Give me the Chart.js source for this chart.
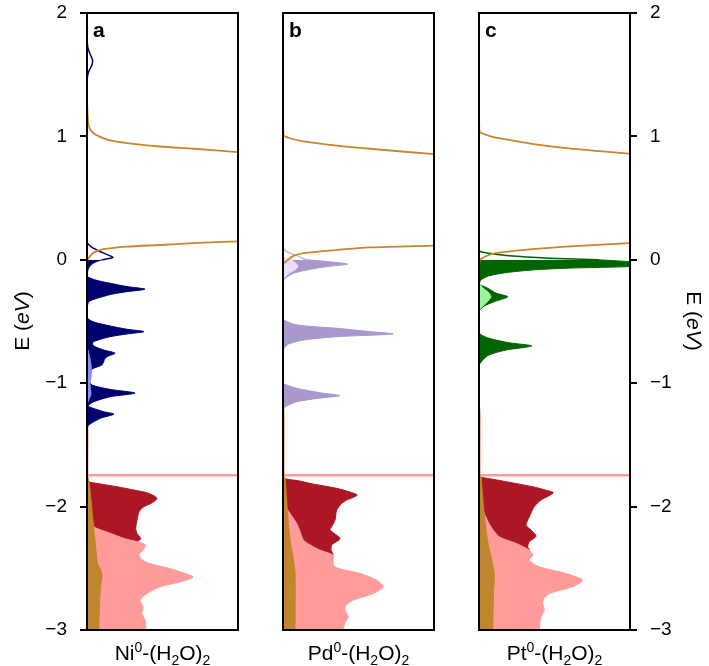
<!DOCTYPE html>
<html>
<head>
<meta charset="utf-8">
<script src="https://cdn.jsdelivr.net/npm/chart.js@4.4.1/dist/chart.umd.min.js"></script>
<style>
    html, body { margin: 0; padding: 0; background: #fff; }
    #wrap { position: relative; width: 709px; height: 666px; }
    #wrap canvas { position: absolute; left: 0; top: 0; }
</style>
</head>
<body>
<div id="wrap">
    <canvas id="panelA" width="709" height="666"></canvas>
    <canvas id="panelB" width="709" height="666"></canvas>
    <canvas id="panelC" width="709" height="666"></canvas>
</div>
<script>
// energy axis (eV) and labels
const energyTicks = [2, 1, 0, -1, -2, -3];
const panelLetters = ['a', 'b', 'c'];
const metals = ['Ni', 'Pd', 'Pt'];

// sharp water level, same in all three panels
const spikeE = [-1.745, -1.745];
const spikeDos = [0, 170];

// ---- panel a : Ni ----
const niMetalUpE = [1.80, 1.74, 1.70, 1.66, 1.62, 1.58, 1.54, 1.50, 1.44, 0.50, 0.15, 0.135, 0.10, 0.067, 0.04, 0.02, 0.01, 0.0];
const niMetalUpDos = [0, 0.5, 1.5, 3.5, 5.5, 5, 2.5, 0.8, 0, 0, 0, 0.5, 5, 13, 21, 26, 22, 15];
const niMetalE = [0, -0.02, -0.05, -0.08, -0.11, -0.136, -0.163, -0.19, -0.217, -0.238, -0.258, -0.278, -0.298, -0.32, -0.339, -0.37, -0.41, -0.445, -0.474, -0.505, -0.536, -0.563, -0.582, -0.601, -0.62, -0.636, -0.663, -0.68, -0.698, -0.731, -0.757, -0.785, -0.805, -0.826, -0.852, -0.879, -0.907, -0.94, -0.974, -1.015, -1.05, -1.08, -1.11, -1.15, -1.177, -1.19, -1.231, -1.25, -1.285, -1.339, -1.37];
const niMetalDos = [15, 8, 3, 1, 0.5, 0.5, 8, 23, 40, 58, 40, 25, 16, 7, 2, 0.5, 0.3, 0.5, 0.5, 7, 23, 40, 57, 40, 25, 16.7, 6.7, 5.5, 6.7, 16.7, 28, 20, 17.5, 16.7, 15, 6.7, 1.7, 1, 1.7, 5, 23, 48, 23, 6.7, 1.7, 1.7, 16.7, 27, 13.3, 1.7, 0];
const niMinorE = [-0.70, -0.75, -0.80, -0.85, -0.90, -0.95, -1.0, -1.05, -1.09, -1.13, -1.17];
const niMinorDos = [0, 1.5, 3, 4, 4.5, 4, 3, 3.5, 4, 2, 0];
const niWaterHiE = [1.30, 1.23, 1.15, 1.094, 1.06, 1.027, 1.0, 0.967, 0.946, 0.918, 0.90, 0.873];
const niWaterHiDos = [0, 0.3, 0.8, 1.5, 3, 6.3, 12, 23, 40, 73, 107, 151];
const niWaterLoE = [0.15, 0.135, 0.12, 0.107, 0.086, 0.06, 0.03, 0.0, -0.05];
const niWaterLoDos = [151, 106, 73, 40, 16.3, 7, 3, 0.5, 0];
const niOchreE = [-1.76, -1.80, -1.97, -2.20, -2.40, -2.46, -2.52, -2.57, -2.62, -2.75, -3.0];
const niOchreDos = [0.5, 2, 4.3, 7, 9.5, 10.5, 14, 15, 14, 12.7, 11.7];
const niPinkE = [-1.30, -1.35, -1.742, -1.748, -1.80, -1.90, -2.0, -2.1, -2.164, -2.217, -2.258, -2.285, -2.31, -2.35, -2.393, -2.43, -2.46, -2.50, -2.542, -2.57, -2.61, -2.65, -2.704, -2.758, -2.81, -2.866, -2.92, -3.0];
const niPinkDos = [0, 1, 1, 1.2, 1.5, 2, 2.5, 4, 7, 23.7, 37, 50.3, 58.7, 56, 52, 55, 62, 82, 98, 106, 93, 73, 60, 53, 56, 54.7, 58, 59];
const niRedE = [-1.77, -1.799, -1.812, -1.839, -1.866, -1.893, -1.934, -1.974, -2.0, -2.042, -2.109, -2.177, -2.217, -2.258, -2.285, -2.33, -2.40, -2.50, -2.70, -3.0];
const niRedDos = [0.5, 2, 10, 30, 47, 62, 70, 64, 57, 52, 50, 48.7, 50, 53.7, 50.3, 35, 20, 10, 5, 3];

// ---- panel b : Pd ----
const pdMetalUpE = [0.12, 0.095, 0.07, 0.05, 0.03, 0.01, 0.0];
const pdMetalUpDos = [0, 0.5, 3, 8, 15, 20, 24];
const pdMetalE = [0.0, -0.014, -0.035, -0.055, -0.082, -0.109, -0.15, -0.177, -0.22, -0.3, -0.4, -0.46, -0.487, -0.528, -0.555, -0.582, -0.601, -0.623, -0.65, -0.682, -0.718, -0.76, -0.85, -0.95, -1.0, -1.041, -1.077, -1.101, -1.123, -1.15, -1.177, -1.2, -1.25];
const pdMetalDos = [24, 44, 64.6, 44, 24, 10.7, 2.3, 0.7, 0.3, 0.2, 0.3, 0.5, 0.8, 14, 54, 87, 110, 54, 20.7, 5.7, 1, 0.5, 0.3, 0.4, 0.5, 14, 37, 56.7, 34, 14, 5.7, 1, 0];
const pdMinorE = [0.02, 0.0, -0.03, -0.055, -0.08, -0.11, -0.14, -0.17];
const pdMinorDos = [0, 8, 13, 15, 12, 6, 2, 0];
const pdWaterHiE = [1.14, 1.01, 0.985, 0.96, 0.926, 0.90, 0.856];
const pdWaterHiDos = [0, 0.5, 7, 20, 54, 87, 151];
const pdWaterLoE = [0.115, 0.10, 0.08, 0.054, 0.03, 0.0, -0.03];
const pdWaterLoDos = [151, 87, 54, 20.3, 10, 5, 0.5];
const pdOchreE = [-1.20, -1.76, -1.771, -2.0, -2.27, -2.393, -2.542, -3.0];
const pdOchreDos = [0.8, 0.8, 2, 4, 7, 9.7, 12, 12];
const pdPinkE = [-1.20, -1.25, -1.742, -1.748, -1.80, -1.90, -2.0, -2.136, -2.2, -2.27, -2.31, -2.353, -2.393, -2.43, -2.474, -2.50, -2.542, -2.596, -2.65, -2.704, -2.758, -2.80, -2.839, -2.893, -2.94, -3.0];
const pdPinkDos = [0, 1, 1, 1.2, 1.5, 2, 3, 13.7, 17, 20.3, 27, 37, 50.3, 50.3, 50.3, 55, 77, 93.7, 100.3, 90.3, 70.3, 63, 62, 65.3, 62, 59.7];
const pdRedE = [-1.76, -1.775, -1.79, -1.812, -1.852, -1.88, -1.907, -1.947, -1.974, -2.028, -2.109, -2.164, -2.19, -2.258, -2.312, -2.35, -2.393, -2.43, -2.5, -2.7, -3.0];
const pdRedDos = [0.5, 2, 15, 27, 53.7, 66, 74.3, 63.7, 58.7, 53.7, 52, 48.7, 47, 57, 48.7, 48, 50, 35, 15, 5, 3];

// ---- panel c : Pt ----
const ptMetalUpE = [0.09, 0.067, 0.054, 0.032, 0.013, 0.0];
const ptMetalUpDos = [0, 1, 10, 30, 70, 120];
const ptMetalE = [0.0, -0.015, -0.035, -0.055, -0.068, -0.082, -0.104, -0.13, -0.163, -0.19, -0.2, -0.23, -0.27, -0.30, -0.339, -0.374, -0.412, -0.5, -0.595, -0.636, -0.672, -0.698, -0.731, -0.771, -0.812, -0.85, -0.9];
const ptMetalDos = [120, 150, 175, 150, 87, 53.7, 27, 10, 2, 0.5, 0.5, 8.7, 17, 28.7, 15.3, 5.3, 0.5, 0.3, 0.5, 10, 30, 52.7, 27, 10, 3.7, 0.5, 0];
const ptMinorE = [-0.19, -0.23, -0.258, -0.30, -0.352, -0.38, -0.41];
const ptMinorDos = [0, 4, 8.7, 12, 7, 3, 0];
const ptWaterHiE = [1.19, 1.04, 1.005, 0.986, 0.94, 0.905, 0.86];
const ptWaterHiDos = [0, 0.5, 10, 20, 53, 87, 150];
const ptWaterLoE = [0.135, 0.107, 0.086, 0.054, 0.04, 0.02, 0.0, -0.03];
const ptWaterLoDos = [150, 86.7, 53.3, 16.7, 10, 5, 1, 0.3];
const ptOchreE = [-1.20, -1.75, -1.758, -2.0, -2.285, -2.542, -2.7, -3.0];
const ptOchreDos = [0.8, 0.8, 2, 4.5, 8.7, 15.3, 14.5, 13.7];
const ptPinkE = [-1.20, -1.25, -1.742, -1.748, -1.80, -1.95, -2.05, -2.164, -2.245, -2.298, -2.353, -2.393, -2.434, -2.488, -2.542, -2.596, -2.65, -2.704, -2.745, -2.785, -2.839, -2.893, -2.94, -3.0];
const ptPinkDos = [0, 1, 1, 1.2, 1.5, 2.5, 5, 12, 20.3, 37, 50.3, 53.7, 50.3, 60.3, 87, 103.7, 93.7, 70.3, 65, 63.7, 65.3, 62, 61, 60.3];
const ptRedE = [-1.755, -1.765, -1.78, -1.798, -1.839, -1.865, -1.888, -1.947, -2.0, -2.083, -2.15, -2.19, -2.24, -2.285, -2.326, -2.353, -2.40, -2.5, -2.7, -3.0];
const ptRedDos = [0.5, 3.7, 15, 27, 53.7, 66, 74.3, 62, 55.3, 50.3, 47, 52, 57, 50.3, 48.7, 50.3, 35, 15, 5, 3];

const FONT = "'Liberation Sans', Arial, Helvetica, sans-serif";
const BLACK = '#000';

function pts(es, ds) {
    return es.map((e, i) => ({x: ds[i], y: e}));
}

function curve(es, ds, color, width) {
    return {data: pts(es, ds), borderColor: color, borderWidth: width, fill: false};
}

function area(es, ds, color, edge) {
    return {data: pts(es, ds), borderColor: edge || color, borderWidth: 1, backgroundColor: color, fill: 'origin'};
}

function spike(color) {
    return {data: pts(spikeE, spikeDos), borderColor: color, borderWidth: 2.5, fill: false, tension: 0};
}

function drawRich(ctx, parts, x, y) {
    let w = 0;
    parts.forEach(p => { ctx.font = p.font; w += ctx.measureText(p.t).width; });
    let cx = x - w / 2;
    parts.forEach(p => {
        ctx.font = p.font;
        ctx.fillText(p.t, cx, y + (p.dy || 0));
        cx += ctx.measureText(p.t).width;
    });
}

function decorations(index, titleSide) {
    return {
        id: 'deco' + index,
        afterDraw(chart) {
            const ctx = chart.ctx;
            const a = chart.chartArea;
            ctx.save();
            ctx.strokeStyle = BLACK;
            ctx.lineWidth = 2;
            ctx.strokeRect(a.left, a.top, a.right - a.left, a.bottom - a.top);

            ctx.fillStyle = BLACK;
            ctx.textBaseline = 'alphabetic';
            ctx.font = 'bold 21px ' + FONT;
            ctx.fillText(panelLetters[index], a.left + 6, 37);

            const big = '21px ' + FONT, small = '14px ' + FONT;
            drawRich(ctx, [
                {t: metals[index], font: big},
                {t: '0', font: small, dy: -8},
                {t: '-(H', font: big},
                {t: '2', font: small, dy: 5},
                {t: 'O)', font: big},
                {t: '2', font: small, dy: 5}
            ], (a.left + a.right) / 2, 660);

            if (titleSide) {
                const left = titleSide === 'left';
                ctx.translate(left ? 23 : 693, 321);
                ctx.rotate(left ? -Math.PI / 2 : Math.PI / 2);
                ctx.textBaseline = 'middle';
                drawRich(ctx, [
                    {t: 'E (', font: '21px ' + FONT},
                    {t: 'eV', font: 'italic 21px ' + FONT},
                    {t: ')', font: '21px ' + FONT}
                ], 0, 0);
            }
            ctx.restore();
        }
    };
}

function makePanel(id, index, datasets, pad, axisSide, axisWidth) {
    new Chart(document.getElementById(id), {
        type: 'line',
        data: {datasets: datasets},
        options: {
            indexAxis: 'y',
            responsive: false,
            animation: false,
            events: [],
            layout: {padding: pad},
            elements: {point: {radius: 0}, line: {tension: 0.25}},
            plugins: {legend: {display: false}, tooltip: {enabled: false}},
            scales: {
                x: {type: 'linear', min: 0, max: 151, display: false},
                y: {
                    type: 'linear',
                    min: energyTicks[energyTicks.length - 1],
                    max: energyTicks[0],
                    display: !!axisSide,
                    position: axisSide || 'left',
                    afterFit: s => {
                        s.width = axisWidth;
                        s.paddingTop = 0;
                        s.paddingBottom = 0;
                    },
                    ticks: {
                        stepSize: 1,
                        color: BLACK,
                        padding: 13,
                        font: {family: FONT, size: 19},
                        callback: v => (v < 0 ? '\u2212' + Math.abs(v) : String(v))
                    },
                    grid: {drawOnChartArea: false, drawTicks: true, tickLength: 7, color: BLACK, lineWidth: 2},
                    border: {display: false}
                }
            }
        },
        plugins: [decorations(index, axisSide)]
    });
}

// dataset order: first one is drawn on top
const navy = '#00006e', orange = '#c8872d', ochre = '#c0862f', pink = '#ff9b9b', darkRed = '#ad1626';

makePanel('panelA', 0, [
    area(niMinorE, niMinorDos, '#8c8cf5'),
    curve(niWaterHiE, niWaterHiDos, orange, 1.8),
    curve(niWaterLoE, niWaterLoDos, orange, 1.8),
    curve(niMetalUpE, niMetalUpDos, navy, 1.5),
    area(niMetalE, niMetalDos, navy),
    area(niOchreE, niOchreDos, ochre),
    spike(pink),
    area(niPinkE, niPinkDos, pink),
    area(niRedE, niRedDos, darkRed)
], {left: 0, right: 471, top: 13, bottom: 36}, 'left', 87);

makePanel('panelB', 1, [
    curve(pdWaterHiE, pdWaterHiDos, orange, 1.8),
    curve(pdWaterLoE, pdWaterLoDos, orange, 1.8),
    area(pdMinorE, pdMinorDos, '#e9e0f8'),
    curve(pdMetalUpE, pdMetalUpDos, '#c6b9e2', 1.5),
    area(pdMetalE, pdMetalDos, '#a898cc'),
    area(pdOchreE, pdOchreDos, ochre),
    spike(pink),
    area(pdPinkE, pdPinkDos, pink),
    area(pdRedE, pdRedDos, darkRed)
], {left: 283, right: 275, top: 13, bottom: 36}, null, 0);

makePanel('panelC', 2, [
    area(ptMinorE, ptMinorDos, '#9cf59c'),
    curve(ptWaterHiE, ptWaterHiDos, orange, 1.8),
    curve(ptWaterLoE, ptWaterLoDos, orange, 1.8),
    curve(ptMetalUpE, ptMetalUpDos, '#006400', 1.5),
    area(ptMetalE, ptMetalDos, '#006400'),
    area(ptOchreE, ptOchreDos, ochre),
    spike(pink),
    area(ptPinkE, ptPinkDos, pink),
    area(ptRedE, ptRedDos, darkRed)
], {left: 479, right: 0, top: 13, bottom: 36}, 'right', 79);
</script>
</body>
</html>
